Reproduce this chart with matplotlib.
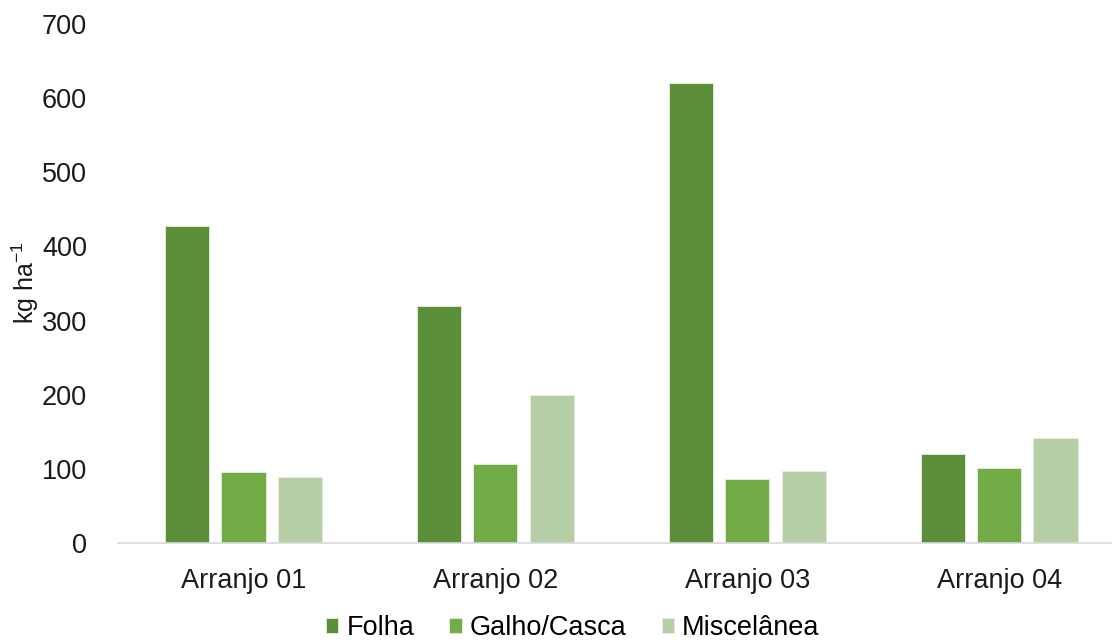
import numpy as np
import matplotlib
matplotlib.use("Agg")
import matplotlib.pyplot as plt

plt.rcParams['font.family'] = ['Liberation Sans', 'DejaVu Sans']
plt.rcParams['mathtext.fontset'] = 'custom'
plt.rcParams['mathtext.rm'] = 'Liberation Sans'
plt.rcParams['mathtext.it'] = 'Liberation Sans'

# data
categories = ["Arranjo 01", "Arranjo 02", "Arranjo 03", "Arranjo 04"]
series = ["Folha", "Galho/Casca", "Miscelânea"]
folha = [428, 320, 620, 120]
galho_casca = [96, 106, 87, 101]
miscelanea = [89, 200, 97, 142]
colors = ["#5B8F3A", "#71AC47", "#B5CEA5"]
y_ticks = [0, 100, 200, 300, 400, 500, 600, 700]

fig = plt.figure(figsize=(11.12, 6.43), dpi=100)
ax = fig.add_axes([0.1057, 0.1555, 0.906, 0.807])

x = np.arange(len(categories))
width = 0.175
step = 0.224
for i, (name, vals) in enumerate(zip(series, [folha, galho_casca, miscelanea])):
    ax.bar(x + (i - 1) * step, vals, width, color=colors[i], label=name,
           edgecolor="#e8f0e0", linewidth=0.6, zorder=2)

ax.set_xlim(-0.5, 3.5)
ax.set_ylim(0, 700)
ax.set_yticks(y_ticks)
ax.set_xticks(x)
ax.set_xticklabels(categories)
ax.tick_params(axis='both', length=0, labelsize=19.5, colors="#1a1a1a")
ax.tick_params(axis='y', pad=22)
ax.tick_params(axis='x', pad=18)

for s in ["top", "right", "left"]:
    ax.spines[s].set_visible(False)
ax.spines["bottom"].set_color("#d9d9d9")
ax.spines["bottom"].set_linewidth(1.2)

# y label placed by hand so it is not cut at the left edge
fig.text(25 / 1112, 1 - 283 / 643, "kg ha$^{-1}$", rotation=90, fontsize=18,
         color="#1a1a1a", ha="center", va="center")

fig.legend(loc="lower center", bbox_to_anchor=(0.515, -0.035), ncol=3,
           frameon=False, fontsize=19.5, handlelength=0.45, handleheight=0.45,
           handletextpad=0.3, columnspacing=1.3)

fig.savefig("out.png", dpi=100)
